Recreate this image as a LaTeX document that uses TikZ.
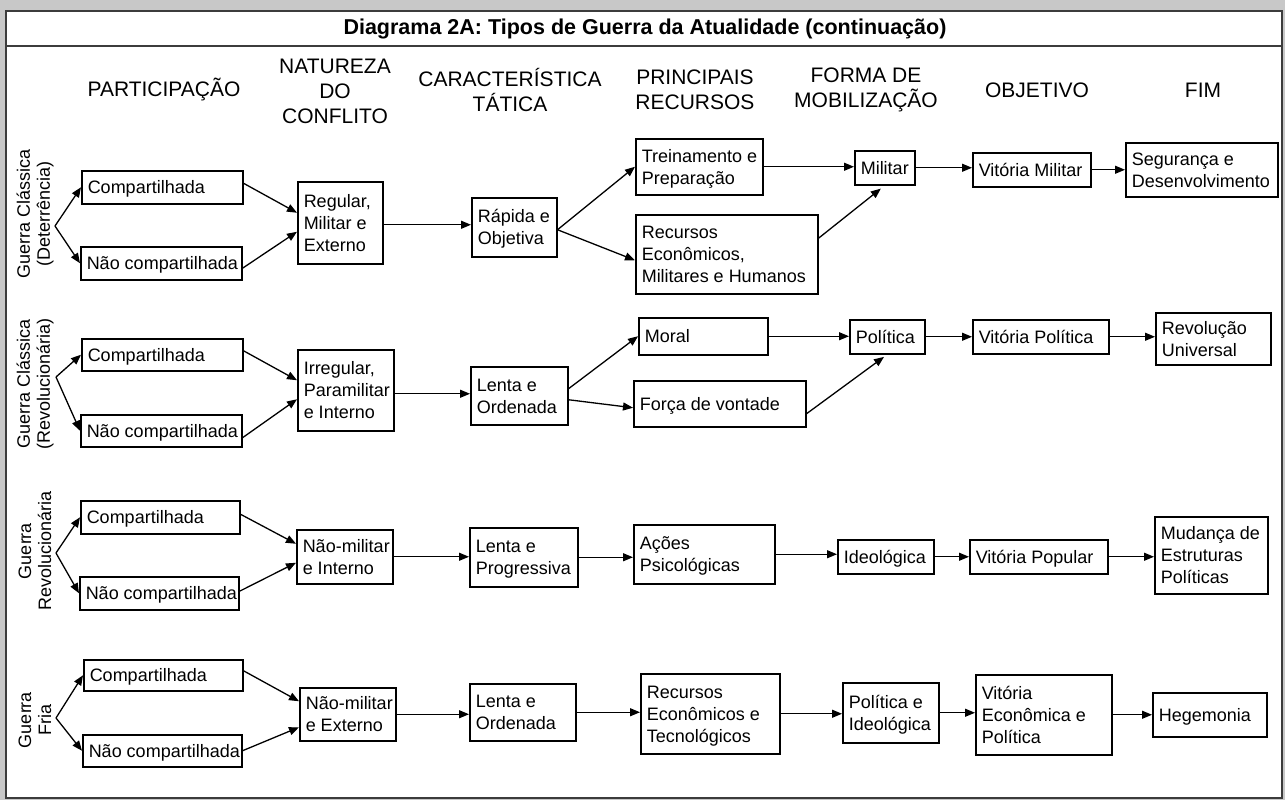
\documentclass[tikz,border=0pt]{standalone}
\usepackage{fontspec}
\setmainfont{Liberation Sans}
\usetikzlibrary{arrows.meta,calc}
\definecolor{bggray}{RGB}{200,200,200}
\definecolor{framec}{RGB}{60,60,60}
\tikzset{
  bx/.style={draw=black,line width=1.5pt,inner sep=0pt,fill=white,font=\fontsize{18}{22}\selectfont},
  hdr/.style={align=center,font=\fontsize{21}{25}\selectfont,inner sep=0pt},
  lab/.style={align=center,rotate=90,font=\fontsize{18}{20}\selectfont,inner sep=0pt},
  arr/.style={-{Triangle[length=10pt,width=8pt]},line width=1.3pt},
  frm/.style={draw=framec,line width=1.5pt}
}
\newcommand\bx[6]{%
  \pgfmathsetmacro\bxw{#4-#2}\pgfmathsetmacro\bxh{#5-#3}\pgfmathsetmacro\bxt{#4-#2-6}%
  \node[bx,anchor=north west,minimum width=\bxw pt,minimum height=\bxh pt] (#1) at (#2,#3)
    {\hspace*{6pt}\makebox[\bxt pt][l]{\raisebox{-2pt}[\height][\depth]{\begin{tabular}{@{}l@{}}#6\end{tabular}}}};}
\begin{document}
\begin{tikzpicture}[x=1pt,y=-1pt]
\useasboundingbox (0,0) rectangle (1285,800);
\fill[bggray] (0,0) rectangle (1285,800);
\draw[frm,fill=white] (6,11) rectangle (1282,798);
\draw[frm] (6,46) -- (1282,46);
\node[font=\fontsize{21.5}{25}\selectfont\bfseries] (title) at (645,29) {Diagrama 2A: Tipos de Guerra da Atualidade (continuação)};

% headers
\node[hdr] (h1) at (164,90) {PARTICIPAÇÃO};
\node[hdr] (h2) at (335,91) {NATUREZA\\DO\\CONFLITO};
\node[hdr] (h3) at (510,90) {CARACTERÍSTICA\\TÁTICA};
\node[hdr] (h4) at (695,90) {PRINCIPAIS\\RECURSOS};
\node[hdr] (h5) at (866,90) {FORMA DE\\MOBILIZAÇÃO};
\node[hdr] (h6) at (1037,90) {OBJETIVO};
\node[hdr] (h7) at (1203,90) {FIM};

% side labels
\node[lab] (lab1) at (35,214) {Guerra Clássica\\(Deterrência)};
\node[lab] (lab2) at (35,384) {Guerra Clássica\\(Revolucionária)};
\node[lab] (lab3) at (35,551) {Guerra\\Revolucionária};
\node[lab] (lab4) at (35,720) {Guerra\\Fria};

% forks
\coordinate (f1) at (55,226);
\coordinate (f2) at (56,377);
\coordinate (f3) at (56,553);
\coordinate (f4) at (56,718);

% Row 1
\bx{c1}{81}{170}{242}{203}{Compartilhada}
\bx{n1}{80}{246}{241}{279}{Não compartilhada}
\bx{r1}{297}{181}{382}{263}{Regular,\\Militar e\\Externo}
\bx{ro1}{471}{197}{556}{256}{Rápida e\\Objetiva}
\bx{t1}{635}{138}{762}{194}{Treinamento e\\Preparação}
\bx{re1}{635}{214}{817}{293}{Recursos\\Econômicos,\\Militares e Humanos}
\bx{m1}{854}{150}{914}{184}{Militar}
\bx{v1}{972}{152}{1090}{186}{Vitória Militar}
\bx{s1}{1125}{142}{1277}{196}{Segurança e\\Desenvolvimento}

% Row 2
\bx{c2}{81}{338}{242}{370}{Compartilhada}
\bx{n2}{80}{414}{241}{446}{Não compartilhada}
\bx{i2}{297}{349}{393}{430}{Irregular,\\Paramilitar\\e Interno}
\bx{l2}{470}{366}{567}{424}{Lenta e\\Ordenada}
\bx{mo2}{638}{317}{767}{354}{Moral}
\bx{fo2}{633}{380}{805}{426}{Força de vontade}
\bx{p2}{849}{319}{924}{353}{Política}
\bx{vp2}{972}{319}{1108}{353}{Vitória Política}
\bx{ru2}{1155}{312}{1270}{364}{Revolução\\Universal}

% Row 3
\bx{c3}{80}{500}{239}{533}{Compartilhada}
\bx{n3}{79}{576}{238}{609}{Não compartilhada}
\bx{nm3}{296}{529}{392}{583}{Não-militar\\e Interno}
\bx{lp3}{469}{527}{577}{586}{Lenta e\\Progressiva}
\bx{a3}{633}{524}{774}{583}{Ações\\Psicológicas}
\bx{id3}{837}{539}{933}{573}{Ideológica}
\bx{vpo3}{969}{539}{1107}{573}{Vitória Popular}
\bx{mu3}{1154}{516}{1267}{593}{Mudança de\\Estruturas\\Políticas}

% Row 4
\bx{c4}{83}{659}{242}{690}{Compartilhada}
\bx{n4}{82}{734}{241}{766}{Não compartilhada}
\bx{nme4}{299}{687}{395}{740}{Não-militar\\e Externo}
\bx{lo4}{469}{683}{575}{740}{Lenta e\\Ordenada}
\bx{rt4}{640}{673}{779}{753}{Recursos\\Econômicos e\\Tecnológicos}
\bx{pi4}{842}{682}{938}{742}{Política e\\Ideológica}
\bx{ve4}{975}{674}{1111}{754}{Vitória\\Econômica e\\Política}
\bx{h4}{1152}{692}{1266}{736}{Hegemonia}

% Connectors row 1
\draw[arr] (f1) -- (c1.west);
\draw[arr] (f1) -- (n1.west);
\draw[arr] ($(c1.east)+(0,-4)$) -- ($(r1.west)+(0,-10)$);
\draw[arr] ($(n1.east)+(0,5)$) -- ($(r1.west)+(0,9)$);
\draw[arr] ($(r1.east)+(0,2)$) -- ($(ro1.west)+(0,-2.5)$);
\draw[arr] ($(ro1.east)+(0,2.5)$) -- (t1.west);
\draw[arr] ($(ro1.east)+(0,2.5)$) -- ($(re1.west)+(0,6)$);
\draw[arr] (t1.east) -- (t1.east -| m1.west);
\draw[arr,shorten >=5pt] ($(re1.east)+(0,-16)$) -- (m1.south);
\draw[arr] (m1.east) -- (m1.east -| v1.west);
\draw[arr] (v1.east) -- (v1.east -| s1.west);

% Connectors row 2
\draw[arr] (f2) -- (c2.west);
\draw[arr] (f2) -- (n2.west);
\draw[arr] ($(c2.east)+(0,-4)$) -- ($(i2.west)+(0,-10)$);
\draw[arr] ($(n2.east)+(0,7)$) -- ($(i2.west)+(0,9)$);
\draw[arr] ($(i2.east)+(0,3.5)$) -- ($(l2.west)+(0,-2)$);
\draw[arr] ($(l2.east)+(0,-7)$) -- (mo2.west);
\draw[arr] ($(l2.east)+(0,4)$) -- ($(fo2.west)+(0,4)$);
\draw[arr] (mo2.east) -- (mo2.east -| p2.west);
\draw[arr,shorten >=4pt] ($(fo2.east)+(0,10)$) -- (p2.south);
\draw[arr] (p2.east) -- (p2.east -| vp2.west);
\draw[arr] (vp2.east) -- (vp2.east -| ru2.west);

% Connectors row 3
\draw[arr] (f3) -- (c3.west);
\draw[arr] (f3) -- (n3.west);
\draw[arr] ($(c3.east)+(0,-3)$) -- ($(nm3.west)+(0,-13)$);
\draw[arr] ($(n3.east)+(0,-2)$) -- ($(nm3.west)+(0,6)$);
\draw[arr] (nm3.east) -- (nm3.east -| lp3.west);
\draw[arr] (lp3.east) -- (lp3.east -| a3.west);
\draw[arr] (a3.east) -- (a3.east -| id3.west);
\draw[arr] (id3.east) -- (id3.east -| vpo3.west);
\draw[arr] (vpo3.east) -- (vpo3.east -| mu3.west);

% Connectors row 4
\draw[arr] (f4) -- (c4.west);
\draw[arr] (f4) -- (n4.west);
\draw[arr] ($(c4.east)+(0,-4.5)$) -- ($(nme4.west)+(0,-13)$);
\draw[arr] (n4.east) -- ($(nme4.west)+(0,13)$);
\draw[arr] (nme4.east) -- (nme4.east -| lo4.west);
\draw[arr] (lo4.east) -- (lo4.east -| rt4.west);
\draw[arr] (rt4.east) -- (rt4.east -| pi4.west);
\draw[arr] (pi4.east) -- (pi4.east -| ve4.west);
\draw[arr] (ve4.east) -- (ve4.east -| h4.west);
\end{tikzpicture}
\end{document}
